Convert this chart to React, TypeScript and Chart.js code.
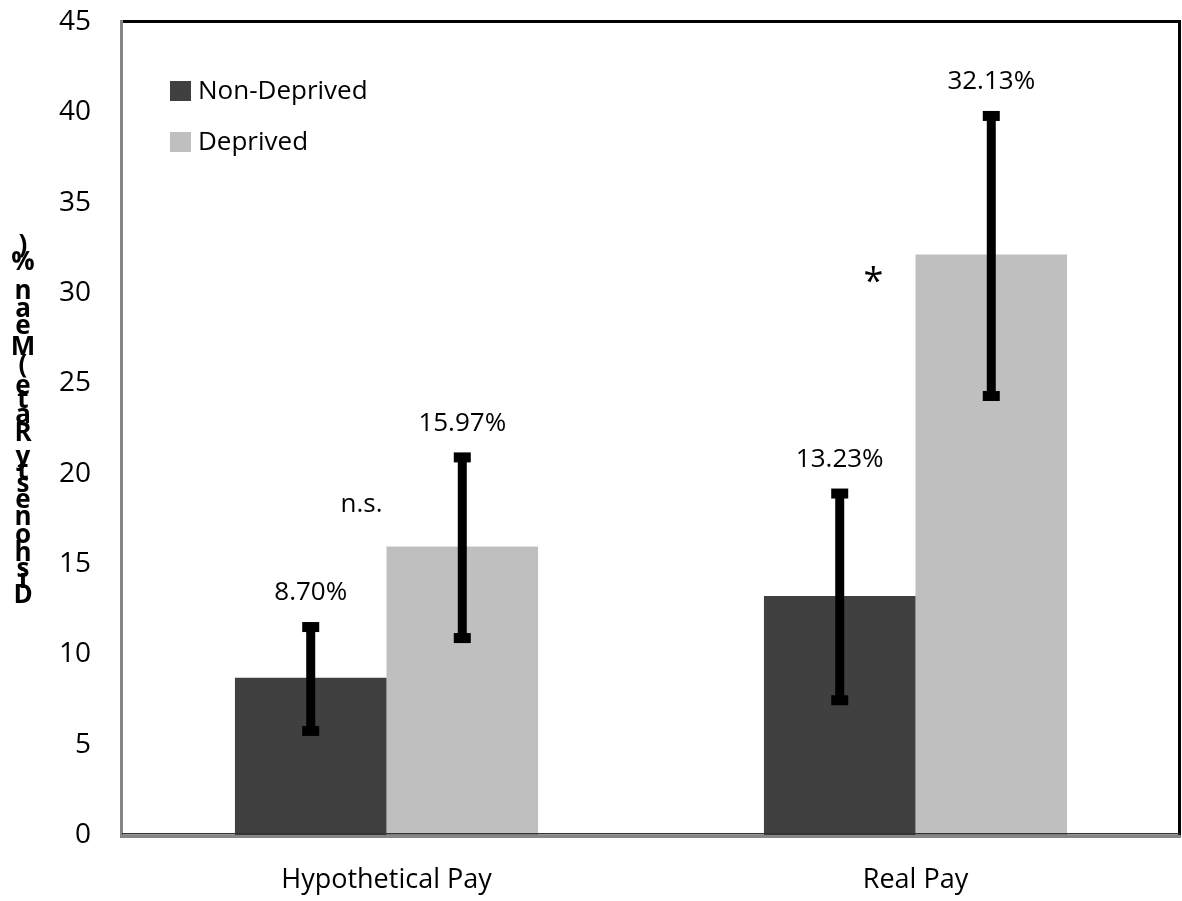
import { useEffect, useRef } from "react";
import { Chart, registerables } from "chart.js";

Chart.register(...registerables);

const categories = ["Hypothetical Pay", "Real Pay"];
const seriesNames = ["Non-Deprived", "Deprived"];
const nonDeprived = [8.7, 13.23];
const deprived = [15.97, 32.13];
const nonDeprivedLow = [5.76, 7.46];
const nonDeprivedHigh = [11.51, 18.9];
const deprivedLow = [10.9, 24.3];
const deprivedHigh = [20.9, 39.8];
const yMin = 0;
const yMax = 45;
const yStep = 5;
const significanceLabels = ["n.s.", "*"];
const significanceLevels = [18.3, 31.0];
const yTitle = "Dishonesty Rate (Mean %)";

const FONT = "'Open Sans', 'DejaVu Sans', sans-serif";
const DARK = "#404040";
const LIGHT = "#BFBFBF";

const lows = [nonDeprivedLow, deprivedLow];
const highs = [nonDeprivedHigh, deprivedHigh];
const colors = [DARK, LIGHT];

const errorBarPlugin = {
  id: "errorBars",
  afterDatasetsDraw(chart: any) {
    const ctx = chart.ctx;
    const y = chart.scales.y;
    ctx.save();
    ctx.fillStyle = "#000";
    for (let d = 0; d < 2; d++) {
      const meta = chart.getDatasetMeta(d);
      meta.data.forEach((bar: any, i: number) => {
        const x = bar.x;
        const yt = y.getPixelForValue(highs[d][i]);
        const yb = y.getPixelForValue(lows[d][i]);
        ctx.fillRect(x - 4.5, yt, 9, yb - yt);
        ctx.fillRect(x - 8.5, yt - 5, 17, 10);
        ctx.fillRect(x - 8.5, yb - 5, 17, 10);
        const vals = d === 0 ? nonDeprived : deprived;
        ctx.font = `26px ${FONT}`;
        ctx.textAlign = "center";
        ctx.textBaseline = "middle";
        ctx.fillText(vals[i].toFixed(2) + "%", x, yt - 34);
      });
    }
    const xs = chart.scales.x;
    const offsets = [-25, -42];
    significanceLabels.forEach((lab, i) => {
      const cx = xs.getPixelForValue(i) + offsets[i];
      const cy = y.getPixelForValue(significanceLevels[i]);
      ctx.font = i === 1 ? `36px ${FONT}` : `26px ${FONT}`;
      ctx.textAlign = "center";
      ctx.textBaseline = "middle";
      ctx.fillText(lab, cx, i === 1 ? cy + 8 : cy);
    });
    ctx.restore();
  },
};

const framePlugin = {
  id: "frame",
  afterDatasetsDraw(chart: any) {
    const { left, right, top, bottom } = chart.chartArea;
    const ctx = chart.ctx;
    ctx.save();
    ctx.fillStyle = "#000";
    ctx.fillRect(left - 1, top - 2, right - left + 1, 3);
    ctx.fillRect(right - 2, top - 2, 3, bottom - top + 2);
    ctx.fillStyle = "#868686";
    ctx.fillRect(left - 2, top - 2, 3, bottom - top + 5);
    ctx.fillStyle = "#333";
    ctx.fillRect(left, bottom - 2, right - left, 1.5);
    ctx.fillStyle = "#868686";
    ctx.fillRect(left - 2, bottom, right - left + 3, 3);
    ctx.restore();
  },
};

const legendTitlePlugin = {
  id: "legendTitle",
  afterDraw(chart: any) {
    const ctx = chart.ctx;
    ctx.save();
    seriesNames.forEach((name, i) => {
      const top = 81 + i * 51;
      ctx.fillStyle = colors[i];
      ctx.fillRect(170, top, 21, 20);
      ctx.fillStyle = "#000";
      ctx.font = `26px ${FONT}`;
      ctx.textAlign = "left";
      ctx.textBaseline = "middle";
      ctx.fillText(name, 198, top + 11);
    });
    ctx.font = `bold 26px ${FONT}`;
    ctx.textAlign = "center";
    ctx.textBaseline = "middle";
    let pos = 606;
    for (const ch of yTitle) {
      const w = ctx.measureText(ch).width * 1.08;
      if (ch !== " ") ctx.fillText(ch, 23, pos - w / 2);
      pos -= w;
    }
    ctx.restore();
  },
};

export default function App() {
  const ref = useRef<HTMLCanvasElement>(null);
  useEffect(() => {
    document.body.style.margin = "0";
    const chart = new Chart(ref.current!, {
      type: "bar",
      data: {
        labels: categories,
        datasets: [
          {
            label: seriesNames[0],
            data: nonDeprived,
            backgroundColor: DARK,
            barPercentage: 1,
            categoryPercentage: 0.573,
          },
          {
            label: seriesNames[1],
            data: deprived,
            backgroundColor: LIGHT,
            barPercentage: 1,
            categoryPercentage: 0.573,
          },
        ],
      },
      options: {
        responsive: false,
        animation: false,
        layout: { padding: { top: 22, right: 2, left: 0, bottom: 0 } },
        plugins: {
          legend: { display: false },
          tooltip: { enabled: false },
          title: { display: false },
        },
        scales: {
          x: {
            grid: { display: false, drawTicks: false },
            border: { display: false },
            ticks: {
              color: "#000",
              font: { family: FONT, size: 27 },
              padding: 29,
            },
            afterFit: (s: any) => {
              s.height = 66;
              s.paddingLeft = 0;
              s.paddingRight = 0;
            },
          },
          y: {
            min: yMin,
            max: yMax,
            grid: { display: false, drawTicks: false },
            border: { display: false },
            ticks: {
              stepSize: yStep,
              color: "#000",
              font: { family: FONT, size: 28 },
              padding: 31,
            },
            afterFit: (s: any) => {
              s.width = 122;
              s.paddingTop = 0;
              s.paddingBottom = 0;
            },
          },
        },
      },
      plugins: [framePlugin, errorBarPlugin, legendTitlePlugin],
    });
    return () => chart.destroy();
  }, []);
  return <canvas ref={ref} width={1182} height={901} style={{ display: "block" }} />;
}
